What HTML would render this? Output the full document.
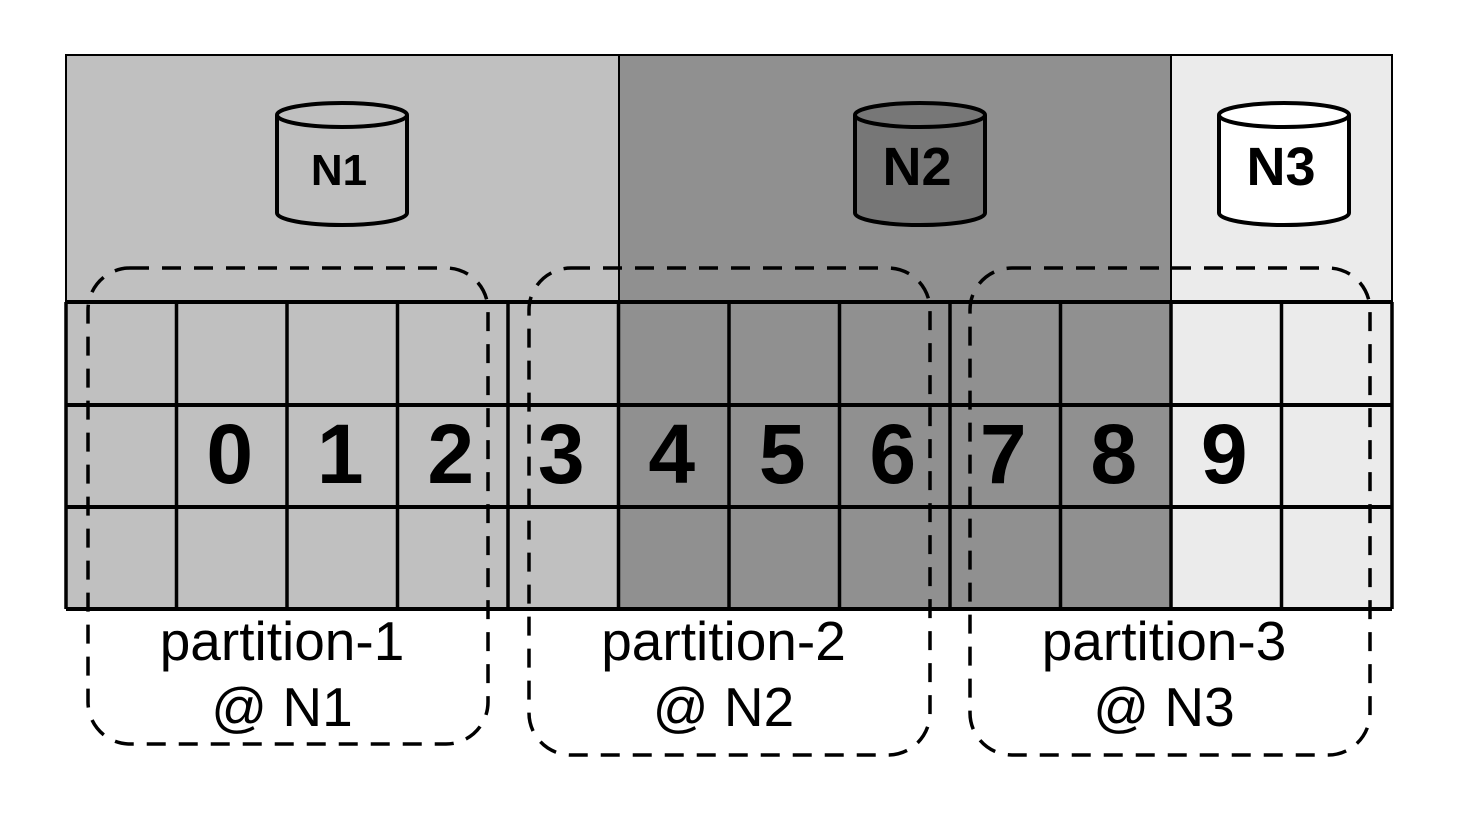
<!DOCTYPE html>
<html><head><meta charset="utf-8"><style>
html,body{margin:0;padding:0;background:#fff;}
svg{display:block;font-family:"Liberation Sans",Arial,sans-serif;}
</style></head><body>
<svg id="diagram" width="1462" height="819" viewBox="0 0 1462 819" xmlns="http://www.w3.org/2000/svg">
  <rect x="0" y="0" width="1462" height="819" fill="#fff"/>
  <rect x="66" y="55" width="553" height="554" fill="#c0c0c0"/>
  <rect x="619" y="55" width="552" height="554" fill="#909090"/>
  <rect x="1171" y="55" width="221" height="554" fill="#ebebeb"/>
  <rect x="66" y="55" width="1326" height="247" fill="none" stroke="#000" stroke-width="2"/>
  <line x1="619" y1="55" x2="619" y2="302" stroke="#000" stroke-width="2"/>
  <line x1="1171" y1="55" x2="1171" y2="302" stroke="#000" stroke-width="2"/>
  <g id="grid"></g>
  <g id="cyl"></g>
  <g id="parts"></g>
</svg>
<script>
const NS='http://www.w3.org/2000/svg';
function mk(tag,attrs,parent){const e=document.createElementNS(NS,tag);for(const k in attrs)e.setAttribute(k,attrs[k]);parent.appendChild(e);return e;}
const grid=document.getElementById('grid');
const x0=66, cw=110.5, rows=[302,405,507,609];
const cellLabels=['','0','1','2','3','4','5','6','7','8','9',''];
for(const y of rows){mk('line',{x1:x0,y1:y,x2:x0+12*cw,y2:y,stroke:'#000','stroke-width':4},grid);}
for(let i=0;i<=12;i++){const x=x0+i*cw;mk('line',{x1:x,y1:302,x2:x,y2:609,stroke:'#000','stroke-width':3.5},grid);}
cellLabels.forEach((t,i)=>{
  if(!t)return;
  const tx=mk('text',{x:x0+i*cw+cw/2-2,y:483,'text-anchor':'middle','font-size':84,'font-weight':'bold',fill:'#000'},grid);
  tx.textContent=t;
  
  
});
const cyl=document.getElementById('cyl');
const nodes=[{n:'N1',cx:342,fill:'#c0c0c0',fs:44},{n:'N2',cx:920,fill:'#777',fs:54},{n:'N3',cx:1284,fill:'#fff',fs:54}];
nodes.forEach(d=>{
  const g=mk('g',{},cyl);
  
  
  const rx=65, top=115, bot=213, ry=12;
  mk('path',{d:`M${d.cx-rx},${top} L${d.cx-rx},${bot} A${rx},${ry} 0 0 0 ${d.cx+rx},${bot} L${d.cx+rx},${top}`,fill:d.fill,stroke:'#000','stroke-width':4},g);
  mk('ellipse',{cx:d.cx,cy:top,rx:rx,ry:ry,fill:d.fill,stroke:'#000','stroke-width':4},g);
  const t=mk('text',{x:d.cx-3,y:185,'text-anchor':'middle','font-size':d.fs,'font-weight':'bold',fill:'#000'},g);
  t.textContent=d.n;
});
const parts=document.getElementById('parts');
const pdefs=[{x:88,w:400,b:744,l:'partition-1',n:'@ N1'},{x:529,w:401,b:755,l:'partition-2',n:'@ N2'},{x:970,w:400,b:755,l:'partition-3',n:'@ N3'}];
pdefs.forEach((p,i)=>{
  const g=mk('g',{},parts);
  
  
  mk('rect',{x:p.x,y:268,width:p.w,height:p.b-268,rx:42,ry:42,fill:'none',stroke:'#000','stroke-width':3.5,'stroke-dasharray':'19 13'},g);
  const cx=p.x+p.w/2;
  const t1=mk('text',{x:cx-6,y:660,'text-anchor':'middle','font-size':55,fill:'#000'},g);t1.textContent=p.l;
  const t2=mk('text',{x:cx-6,y:726,'text-anchor':'middle','font-size':55,fill:'#000'},g);t2.textContent=p.n;
});
</script>
</body></html>
